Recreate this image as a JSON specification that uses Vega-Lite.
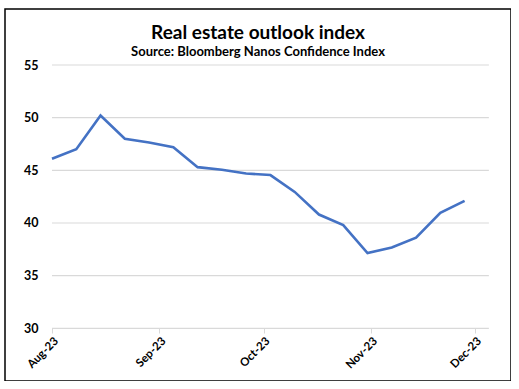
{
  "$schema": "https://vega.github.io/schema/vega-lite/v6.json",
  "autosize": {"type": "none"},
  "padding": {"left": 5, "top": 9, "right": 0, "bottom": 0},
  "width": 506,
  "height": 372,
  "background": "white",
  "config": {
    "view": {"stroke": "#000000", "strokeWidth": 1.5},
    "font": "Lato"
  },
  "title": {
    "text": "Real estate outlook index",
    "subtitle": "Source: Bloomberg Nanos Confidence Index",
    "anchor": "middle",
    "frame": "group",
    "offset": -50,
    "font": "Lato",
    "fontSize": 19,
    "fontWeight": "bold",
    "color": "#000000",
    "subtitleFont": "Lato",
    "subtitleFontSize": 13,
    "subtitleFontWeight": "bold",
    "subtitleColor": "#000000",
    "subtitlePadding": 3
  },
  "datasets": {
    "series": [
      {"date": "2023-08-01T00:00", "value": 46.1},
      {"date": "2023-08-08T00:00", "value": 47.0},
      {"date": "2023-08-15T00:00", "value": 50.2},
      {"date": "2023-08-22T00:00", "value": 48.0},
      {"date": "2023-08-29T00:00", "value": 47.65},
      {"date": "2023-09-05T00:00", "value": 47.2},
      {"date": "2023-09-12T00:00", "value": 45.3},
      {"date": "2023-09-19T00:00", "value": 45.05},
      {"date": "2023-09-26T00:00", "value": 44.7},
      {"date": "2023-10-03T00:00", "value": 44.55},
      {"date": "2023-10-10T00:00", "value": 42.95},
      {"date": "2023-10-17T00:00", "value": 40.8},
      {"date": "2023-10-24T00:00", "value": 39.8},
      {"date": "2023-10-31T00:00", "value": 37.15},
      {"date": "2023-11-07T00:00", "value": 37.67},
      {"date": "2023-11-14T00:00", "value": 38.6},
      {"date": "2023-11-21T00:00", "value": 40.96},
      {"date": "2023-11-28T00:00", "value": 42.1}
    ],
    "grid": [
      {"v": 30, "start": "2023-08-01T00:00", "end": "2023-12-05T00:00"},
      {"v": 35, "start": "2023-08-01T00:00", "end": "2023-12-05T00:00"},
      {"v": 40, "start": "2023-08-01T00:00", "end": "2023-12-05T00:00"},
      {"v": 45, "start": "2023-08-01T00:00", "end": "2023-12-05T00:00"},
      {"v": 50, "start": "2023-08-01T00:00", "end": "2023-12-05T00:00"},
      {"v": 55, "start": "2023-08-01T00:00", "end": "2023-12-05T00:00"}
    ]
  },
  "layer": [
    {
      "data": {"name": "grid"},
      "mark": {"type": "rule", "color": "#D9D9D9", "strokeWidth": 1.2},
      "encoding": {
        "x": {"field": "start", "type": "temporal"},
        "x2": {"field": "end"},
        "y": {"field": "v", "type": "quantitative"}
      }
    },
    {
      "data": {"name": "series"},
      "mark": {"type": "line", "color": "#4472C4", "strokeWidth": 2.6, "strokeJoin": "miter"},
      "encoding": {
        "x": {"field": "date", "type": "temporal"},
        "y": {"field": "value", "type": "quantitative"}
      }
    }
  ],
  "resolve": {"scale": {"x": "shared", "y": "shared"}},
  "encoding": {
    "x": {
      "type": "temporal",
      "scale": {
        "domain": [{"year": 2023, "month": 8, "date": 1}, {"year": 2023, "month": 12, "date": 1}],
        "range": [47, 470],
        "nice": false
      },
      "axis": {
        "title": null,
        "values": [
          {"year": 2023, "month": 8, "date": 1},
          {"year": 2023, "month": 9, "date": 1},
          {"year": 2023, "month": 10, "date": 1},
          {"year": 2023, "month": 11, "date": 1},
          {"year": 2023, "month": 12, "date": 1}
        ],
        "format": "%b-%y",
        "labelAngle": -45,
        "labelFont": "Lato",
        "labelFontSize": 11.5,
        "labelFontWeight": "bold",
        "labelColor": "#000000",
        "domain": false,
        "grid": false,
        "ticks": true,
        "tickColor": "#D9D9D9",
        "tickSize": 5,
        "labelPadding": 2,
        "offset": -53
      }
    },
    "y": {
      "type": "quantitative",
      "scale": {"domain": [30, 55], "range": [319.3, 56], "nice": false, "zero": false},
      "axis": {
        "title": null,
        "values": [30, 35, 40, 45, 50, 55],
        "labelFont": "Lato",
        "labelFontSize": 12.5,
        "labelFontWeight": "bold",
        "labelColor": "#000000",
        "domain": false,
        "ticks": false,
        "grid": false,
        "labelPadding": 2,
        "offset": -35
      }
    }
  }
}
